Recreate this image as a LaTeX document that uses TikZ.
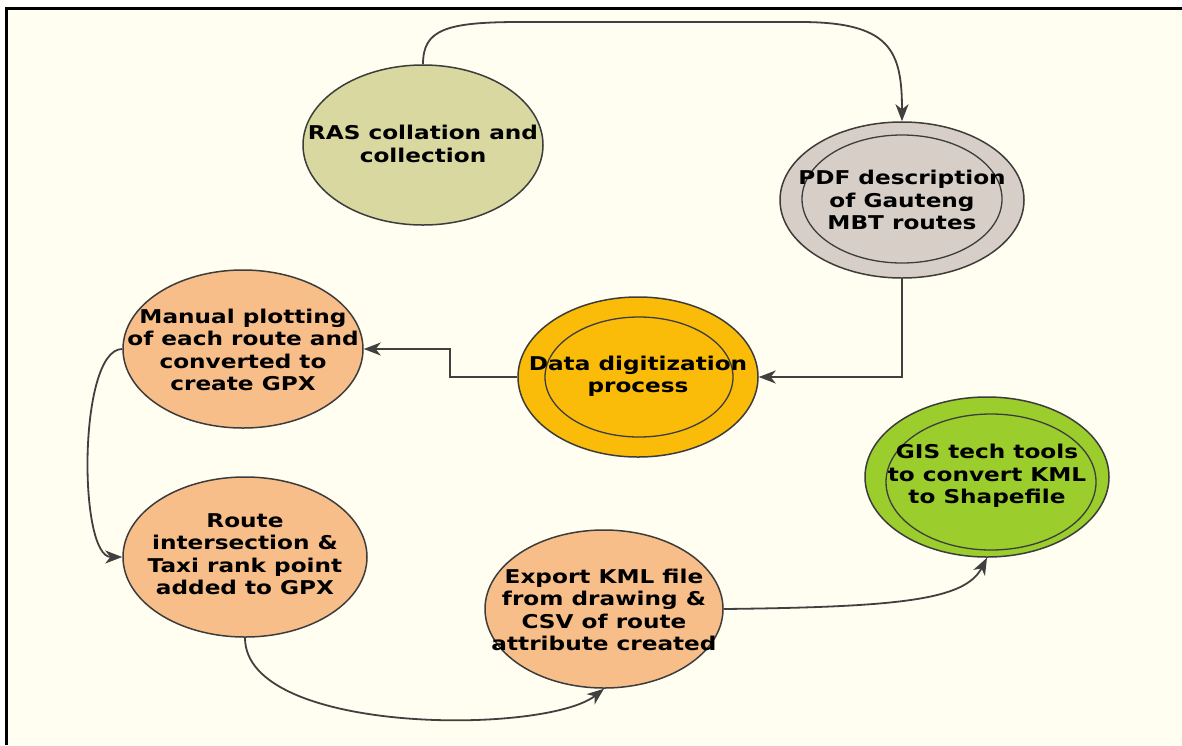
\documentclass[tikz,border=0pt]{standalone}
\usepackage{fontspec}
\setmainfont{DejaVu Sans}[FakeStretch=1.22]
\usetikzlibrary{shapes.geometric,arrows.meta}
\definecolor{bg}{RGB}{255,254,240}
\definecolor{edge}{RGB}{60,60,60}
\definecolor{linec}{RGB}{64,64,64}
\definecolor{rasc}{RGB}{216,216,160}
\definecolor{pdfc}{RGB}{215,207,199}
\definecolor{datac}{RGB}{250,188,8}
\definecolor{orc}{RGB}{247,190,138}
\definecolor{gisc}{RGB}{155,205,45}
\tikzset{
  ell/.style={ellipse, draw=edge, line width=1.5pt, inner sep=0pt},
  innerell/.style={ellipse, draw=edge, line width=1.3pt, inner sep=0pt, fill=none},
  lbl/.style={align=center, inner sep=0pt, font=\fontsize{19}{22.5}\selectfont\bfseries, text=black},
  conn/.style={draw=linec, line width=1.8pt, -{Stealth[length=17pt,width=13pt,inset=5pt]}}
}
\begin{document}
\begin{tikzpicture}[x=1pt,y=-1pt]
\useasboundingbox (0,0) rectangle (1182,745);
\fill[white] (0,0) rectangle (1182,745);
\fill[bg] (6,8) rectangle (1182,745);
\draw[black,line width=3pt] (6,745) -- (6,8) -- (1182,8);

% nodes
\node[ell, fill=rasc, minimum width=240pt, minimum height=160pt] (ras) at (423,145) {};
\node[lbl] (rast) at (423,144) {RAS collation and\\collection};

\node[ell, fill=pdfc, minimum width=244pt, minimum height=156pt] (pdf) at (902,200) {};
\node[innerell, minimum width=200pt, minimum height=128pt] (pdfin) at (902,199) {};
\node[lbl] (pdft) at (902,200) {PDF description\\of Gauteng\\MBT routes};

\node[ell, fill=datac, minimum width=240pt, minimum height=160pt] (data) at (638,377) {};
\node[innerell, minimum width=188pt, minimum height=120pt] (datain) at (639,377) {};
\node[lbl] (datat) at (638,376) {Data digitization\\process};

\node[ell, fill=orc, minimum width=240pt, minimum height=158pt] (manual) at (243,349) {};
\node[lbl] (manualt) at (243,350) {Manual plotting\\of each route and\\converted to\\create GPX};

\node[ell, fill=orc, minimum width=244pt, minimum height=160pt] (route) at (245,557) {};
\node[lbl] (routet) at (245,554) {Route\\intersection \&\\Taxi rank point\\added to GPX};

\node[ell, fill=orc, minimum width=238pt, minimum height=158pt] (export) at (604,609) {};
\node[lbl] (exportt) at (604,610) {Export KML file\\from drawing \&\\CSV of route\\attribute created};

\node[ell, fill=gisc, minimum width=244pt, minimum height=160pt] (gis) at (987,477) {};
\node[innerell, minimum width=210pt, minimum height=136pt] (gisin) at (991,482) {};
\node[lbl] (gist) at (987,476) {GIS tech tools\\to convert KML\\to Shapefile};

% connectors
\draw[conn] (ras.north) .. controls (423,30) and (445,22) .. (520,22) -- (800,22) .. controls (890,22) and (902,50) .. (pdf.north);
\draw[conn] (pdf.south) |- (data.east);
\draw[conn] (data.west) -- (450,377) |- (manual.east);
\draw[conn] (manual.west) .. controls (78,349) and (78,557) .. (route.west);
\draw[conn] (route.south) .. controls (245,735) and (545,735) .. (export.south);
\draw[conn] (export.east) .. controls (900,607) and (965,600) .. (gis.south);
\end{tikzpicture}
\end{document}
